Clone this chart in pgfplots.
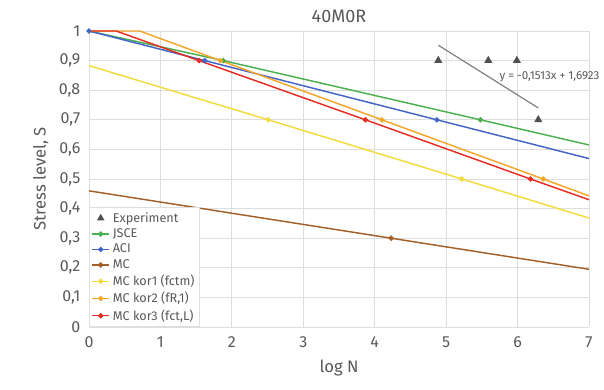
\documentclass[border=0pt]{standalone}
\usepackage{pgfplots}
\pgfplotsset{compat=1.18}
\usepackage{fontspec}
\setmainfont{Fira Sans}
\definecolor{txt}{RGB}{89,89,89}
\definecolor{gridc}{RGB}{222,222,222}
\definecolor{cJSCE}{RGB}{76,175,80}
\definecolor{cACI}{RGB}{68,100,200}
\definecolor{cMC}{RGB}{165,95,40}
\definecolor{cK1}{RGB}{240,220,60}
\definecolor{cK2}{RGB}{245,165,40}
\definecolor{cK3}{RGB}{228,45,35}
\definecolor{cExp}{RGB}{80,80,80}
\begin{document}
\begin{tikzpicture}
\begin{axis}[
  name=ax,
  scale only axis,
  clip=false,
  width=375pt, height=222pt,
  xmin=0, xmax=7, ymin=0, ymax=1,
  xtick={0,1,...,7}, ytick={0,0.1,...,1.0},
  grid=major,
  major grid style={draw=gridc, line width=0.6pt},
  axis line style={draw=none},
  tick style={draw=none},
  /pgf/number format/assume math mode=true,
  /pgf/number format/use comma,
  /pgf/number format/fixed,
  ticklabel style={font=\fontsize{12}{14}\selectfont, text=txt},
  xticklabel style={yshift=-4pt},
  yticklabel style={xshift=-3pt},
  title={40M0R},
  title style={font=\fontsize{13.5}{15}\selectfont, text=txt, yshift=-3pt},
  xlabel={log N},
  ylabel={Stress level, S},
  label style={font=\fontsize{12.5}{14}\selectfont, text=txt},
  xlabel style={yshift=-2pt},
  ylabel style={yshift=1pt},
  legend style={at={(0,0)}, anchor=south west, font=\fontsize{9.5}{11}\selectfont, text=txt,
    draw=gridc, fill=white, inner sep=1.5pt, row sep=-0.6pt,
    legend cell align=left},
  legend image code/.code={
    \draw[#1, mark=none] plot coordinates {(0cm,0cm) (0.46cm,0cm)};
    \draw[#1, only marks, mark indices={1}] plot coordinates {(0.23cm,0cm)};},
  every axis plot/.append style={line width=1.1pt, mark size=1.4pt},
]
\addplot[only marks, mark=triangle*, mark size=2.5pt, color=cExp, forget plot] coordinates {(4.89,0.9)};
\addlegendimage{only marks, mark=triangle*, mark size=2.2pt, color=cExp}
\addlegendentry{Experiment}
\addplot[only marks, mark=triangle*, mark size=2.5pt, color=cExp, forget plot] coordinates {(5.59,0.9) (5.99,0.9) (6.29,0.7)};
\addplot[color=cJSCE, mark=*, mark indices={2,3}] coordinates {(0,1) (1.88,0.9) (5.48,0.7) (7,0.615)};
\addlegendentry{JSCE}
\addplot[color=cACI, mark=*, mark indices={1,2,3}] coordinates {(0,1) (1.62,0.9) (4.87,0.7) (7,0.569)};
\addlegendentry{ACI}
\addplot[color=cMC, mark=*, mark indices={2}] coordinates {(0,0.46) (4.23,0.3) (7,0.195)};
\addlegendentry{MC}
\addplot[color=cK1, mark=*, mark indices={2,3}] coordinates {(0,0.883) (2.51,0.7) (5.22,0.5) (7,0.368)};
\addlegendentry{MC kor1 (fctm)}
\addplot[color=cK2, mark=*, mark indices={3,4,5}] coordinates {(0,1) (0.71,1) (1.84,0.9) (4.10,0.7) (6.36,0.5) (7,0.443)};
\addlegendentry{MC kor2 (fR,1)}
\addplot[color=cK3, mark=*, mark indices={3,4,5}] coordinates {(0,1) (0.38,1) (1.54,0.9) (3.87,0.7) (6.18,0.5) (7,0.43)};
\addlegendentry{MC kor3 (fct,L)}
\addplot[color=gray, line width=0.9pt, forget plot] coordinates {(4.89,0.952) (6.29,0.740)};
\node[anchor=east, font=\fontsize{8.7}{10}\selectfont, text=txt, inner sep=0pt] at (axis cs:7.15,0.845) {y = -0,1513x + 1,6923};
\end{axis}
\pgfresetboundingbox
\path[use as bounding box] ([shift={(-66.75pt,-46.5pt)}]ax.south west) rectangle ([shift={(11.25pt,23.25pt)}]ax.north east);
\end{tikzpicture}
\end{document}
